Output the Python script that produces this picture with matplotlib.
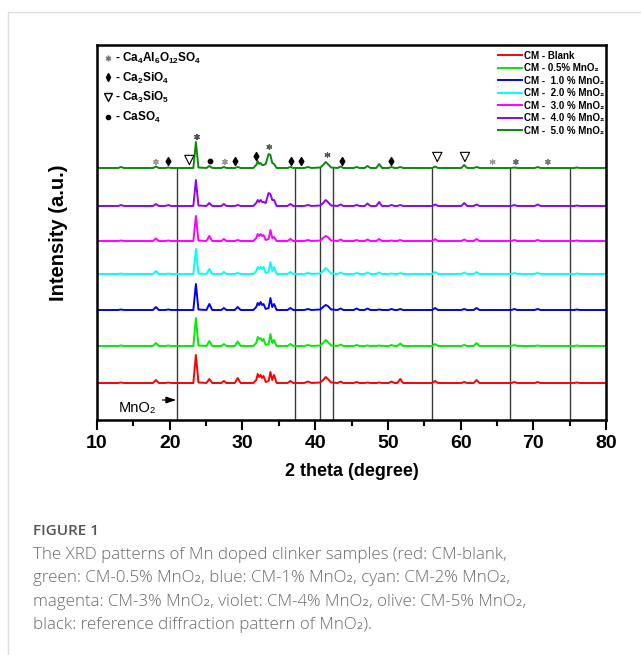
import matplotlib
matplotlib.use("Agg")
from matplotlib import pyplot as plt
from matplotlib.lines import Line2D

# shared 2-theta grid (degree)
two_theta = [10.0, 12.9, 13.3, 13.7, 17.7, 18.1, 18.5, 19.4, 19.8, 20.2,
             23.25, 23.6, 23.95, 25.05, 25.45, 25.85, 27.1, 27.45, 27.8, 28.95,
             29.35, 29.75, 31.5, 31.9, 32.1, 32.3, 32.5, 32.7, 32.9, 33.2,
             33.6, 33.85, 34.1, 34.35, 34.7, 36.2, 36.6, 37.0, 38.5, 39.0,
             39.5, 40.7, 41.1, 41.45, 41.75, 42.2, 43.1, 43.5, 43.9, 45.3,
             45.7, 46.1, 46.8, 47.2, 47.6, 48.4, 48.8, 49.2, 50.1, 50.5,
             50.9, 51.3, 51.7, 52.1, 56.1, 56.5, 56.9, 60.1, 60.5, 60.9,
             61.8, 62.2, 62.6, 67.0, 67.4, 67.8, 70.2, 70.6, 71.0, 75.6,
             76.0, 76.4, 80.0]

cm_blank = [0, 0, 0.5, 0, 0, 3, 0, 0, 0.5, 0,
            0, 28, 0.5, 0, 4, 0, 0, 2, 0, 0,
            5, 0, 0, 3, 9, 6, 8, 5, 7, 1,
            2, 11, 3, 8, 0, 0, 2, 0, 0, 1.5,
            0, 0.5, 3, 6, 4, 0.5, 0, 1.5, 0, 0,
            1, 0, 0, 0.5, 0, 0, 0.5, 0, 0, 1.5,
            0, 0, 4, 0, 0, 2, 0, 0, 1, 0,
            0, 3, 0, 0, 1, 0, 0, 1, 0, 0,
            0.5, 0, 0]
cm_05 = [0, 0, 0.5, 0, 0, 3, 0, 0, 0.5, 0,
         0, 28, 0.5, 0, 5, 0, 0, 2, 0, 0,
         4.5, 0, 0, 3, 9, 7, 8, 5, 7, 1,
         2, 12, 3, 6, 0, 0, 2, 0, 0, 1,
         0, 0.5, 3, 6, 4, 0.5, 0, 1.5, 0, 0,
         1, 0, 0, 0.5, 0, 0, 0.5, 0, 0, 1,
         0, 0, 2.5, 0, 0, 2, 0, 0, 1, 0,
         0, 3, 0, 0, 1, 0, 0, 0.5, 0, 0,
         0.5, 0, 0]
cm_10 = [0, 0, 0.5, 0, 0, 3, 0, 0, 0.5, 0,
         0, 26, 0.5, 0, 6, 0, 0, 2, 0, 0,
         3, 0, 0, 3, 7, 5, 8, 5, 6, 1,
         2, 12, 3, 6, 0, 0, 2, 0, 0, 1,
         0, 0.5, 3, 5, 4, 0.5, 0, 1.5, 0, 0,
         1.5, 0, 0, 1.5, 0, 0, 0.5, 0, 0, 1,
         0, 0, 1, 0, 0, 2, 0, 0, 1, 0,
         0, 2, 0, 0, 1, 0, 0, 1, 0, 0,
         0.5, 0, 0]
cm_20 = [0, 0, 0.5, 0, 0, 3, 0, 0, 0.5, 0,
         0, 25, 0.5, 0, 5, 0, 0, 2, 0, 0,
         1, 0, 0, 3, 7, 5, 7, 5, 7, 1,
         2, 12, 3, 7, 0, 0, 2, 0, 0, 1,
         0, 0.5, 3, 6, 4, 0.5, 0, 1.5, 0, 0,
         1, 0, 0, 1.5, 0, 0, 1.5, 0, 0, 0.5,
         0, 0, 1, 0, 0, 2, 0, 0, 1.5, 0,
         0, 2, 0, 0, 1, 0, 0, 1, 0, 0,
         0.5, 0, 0]
cm_30 = [0, 0, 0.5, 0, 0, 2.5, 0, 0, 0.5, 0,
         0, 25, 0.5, 0, 5, 0, 0, 2, 0, 0,
         1, 0, 0, 3, 7, 5, 7, 5, 6, 1,
         2, 11, 3, 4, 0, 0, 2, 0, 0, 1,
         0, 0.5, 3, 5, 4, 0.5, 0, 1.5, 0, 0,
         1, 0, 0, 1.5, 0, 0, 2, 0, 0, 0.5,
         0, 0, 1, 0, 0, 2, 0, 0, 1.5, 0,
         0, 2, 0, 0, 1, 0, 0, 1, 0, 0,
         0.5, 0, 0]
cm_40 = [0, 0, 1, 0, 0, 2, 0, 0, 1, 0,
         0, 26, 0.5, 0, 3, 0, 0, 2, 0, 0,
         1, 0, 0, 3, 6, 4, 6, 4, 4, 3,
         13, 12, 6, 6, 0, 0, 2, 0, 0, 1,
         0, 0.5, 3, 6, 4, 0.5, 0, 1.5, 0, 0,
         1, 0, 0, 2.5, 0, 0, 4, 0, 0, 1,
         0, 0, 1, 0, 0, 1.5, 0, 0, 3, 0,
         0, 1.5, 0, 0, 1, 0, 0, 1.5, 0, 0,
         0.5, 0, 0]
cm_50 = [0, 0, 1, 0, 0, 1.5, 0, 0, 0.5, 0,
         0, 26, 0.5, 0, 2, 0, 0, 1, 0, 0,
         1, 0, 0, 3, 7, 4, 5, 3, 3, 4,
         14, 13, 5, 4, 0, 0, 1, 0, 0, 1,
         0, 0.5, 3, 6, 4, 0.5, 0, 1.5, 0, 0,
         1, 0, 0, 2, 0, 0, 4, 0, 0, 1,
         0, 0, 1, 0, 0, 1.5, 0, 0, 3, 0,
         0, 1, 0, 0, 0.5, 0, 0, 1, 0, 0,
         0.5, 0, 0]

labels = ["CM - Blank", "CM - 0.5% MnO₂", "CM -  1.0 % MnO₂",
          "CM -  2.0 % MnO₂", "CM -  3.0 % MnO₂",
          "CM -  4.0 % MnO₂", "CM -  5.0 % MnO₂"]

# MnO2 reference reflections
mno2_peaks = [21.0, 37.2, 40.6, 42.4, 56.1, 66.8, 75.0]

# phase marks above the top pattern
star_x = [18.1, 23.75, 27.6, 33.7, 41.7, 64.4, 67.6, 72.0]
diamond_x = [19.7, 29.0, 31.8, 36.7, 38.1, 43.7, 50.4]
triangle_x = [22.7, 56.8, 60.6]
dot_x = [25.5]

plt.rcParams["font.family"] = ["Liberation Sans", "DejaVu Sans"]
plt.rcParams["font.weight"] = "bold"
plt.rcParams["mathtext.fontset"] = "custom"
plt.rcParams["mathtext.rm"] = "Liberation Sans:bold"
plt.rcParams["mathtext.bf"] = "Liberation Sans:bold"
plt.rcParams["mathtext.default"] = "rm"

fig = plt.figure(figsize=(6.41, 6.55), dpi=100)
ax = fig.add_axes([97 / 641, 1 - 420 / 655, 509 / 641, 375 / 655])

series = [cm_blank, cm_05, cm_10, cm_20, cm_30, cm_40, cm_50]
colors = ["#ff0000", "#00ee00", "#0000ff", "#00ffff", "#ff00ff", "#9400ff", "#0a8a0a"]
offsets = [37, 74, 110, 146, 179, 214, 252]

ax.vlines(mno2_peaks, 0, 253, colors="#3a3a3a", linewidth=1.0, zorder=1)
for s, c, off, lab in zip(series, colors, offsets, labels):
    ax.plot(two_theta, [v + off for v in s], color=c, lw=1.4, label=lab, zorder=2)

mark_y = 258
ax.scatter(star_x, [mark_y, 283, mark_y, 273, 265, mark_y, mark_y, mark_y],
           marker=(6, 2, 0), s=14, c=["#999999", "#555555", "#999999", "#555555",
                                      "#555555", "#999999", "#666666", "#777777"],
           linewidths=0.8, zorder=3)
ax.scatter(diamond_x, [259, 259, 264, 259, 259, 259, 259], marker="d", s=16,
           color="black", zorder=3)
ax.scatter(triangle_x, [260, 263, 263], marker="v", s=45, facecolors="none",
           edgecolors="black", linewidths=0.8, zorder=3)
ax.scatter(dot_x, [259], marker="o", s=10, color="black", zorder=3)

ax.annotate("", xy=(20.9, 20), xytext=(19.0, 20),
            arrowprops=dict(arrowstyle="-|>,head_length=0.6,head_width=0.2",
                            color="black", lw=0.9, shrinkA=0, shrinkB=0))
ax.text(13.0, 12, "MnO₂", fontsize=10.5, fontweight="normal",
        family=["Liberation Sans", "DejaVu Sans"], va="center", ha="left")

ax.set_xlim(10, 80)
ax.set_ylim(0, 375)
ax.set_xticks(range(10, 81, 10))
ax.set_xticks(range(15, 80, 10), minor=True)
ax.set_yticks([])
ax.tick_params(axis="x", which="major", length=7, width=1.5, labelsize=14, pad=4)
ax.tick_params(axis="x", which="minor", length=4, width=1.5)
for sp in ax.spines.values():
    sp.set_linewidth(1.8)
ax.set_xlabel("2 theta (degree)", fontsize=13, fontweight="bold", labelpad=8)
ax.set_ylabel("Intensity (a.u.)", fontsize=14.5, fontweight="bold", labelpad=21)

leg = ax.legend(loc="upper right", bbox_to_anchor=(1.0, 0.99), fontsize=7,
                frameon=False, handlelength=2.4, handletextpad=0.2,
                labelspacing=0.26, borderaxespad=0.0, borderpad=0.2)
ax.add_artist(leg)

phase_handles = [
    Line2D([0], [0], marker=(6, 2, 0), color="#777777", lw=0, markersize=4),
    Line2D([0], [0], marker="d", color="black", lw=0, markersize=4),
    Line2D([0], [0], marker="v", markerfacecolor="none", markeredgecolor="black",
           lw=0, markersize=6),
    Line2D([0], [0], marker="o", color="black", lw=0, markersize=3),
]
phase_labels = ["- Ca$_4$Al$_6$O$_{12}$SO$_4$", "- Ca$_2$SiO$_4$",
                "- Ca$_3$SiO$_5$", "- CaSO$_4$"]
ax.legend(phase_handles, phase_labels, loc="upper left", fontsize=8.5, frameon=False,
          handlelength=0.8, handletextpad=0.2, labelspacing=0.38, borderaxespad=0.2,
          borderpad=0.3)

# card frame lines
fig.add_artist(Line2D([9 / 641, 1], [1 - 12 / 655, 1 - 12 / 655], color="#dddddd", lw=1))
fig.add_artist(Line2D([8 / 641, 8 / 641], [0, 1 - 12 / 655], color="#dddddd", lw=1))

cap_font = ["Open Sans", "DejaVu Sans"]
fig.text(33 / 641, 1 - 531 / 655, "FIGURE 1", fontsize=11, color="#555555",
         family=cap_font, fontweight="semibold", va="center")
caption = ["The XRD patterns of Mn doped clinker samples (red: CM-blank,",
           "green: CM-0.5% MnO₂, blue: CM-1% MnO₂, cyan: CM-2% MnO₂,",
           "magenta: CM-3% MnO₂, violet: CM-4% MnO₂, olive: CM-5% MnO₂,",
           "black: reference diffraction pattern of MnO₂)."]
for i, line in enumerate(caption):
    fig.text(33 / 641, 1 - (555 + 23.3 * i) / 655, line, fontsize=12.2,
             color="#6a6a6a", family=cap_font, fontweight="light", va="center")

fig.savefig("out.png", dpi=100)
